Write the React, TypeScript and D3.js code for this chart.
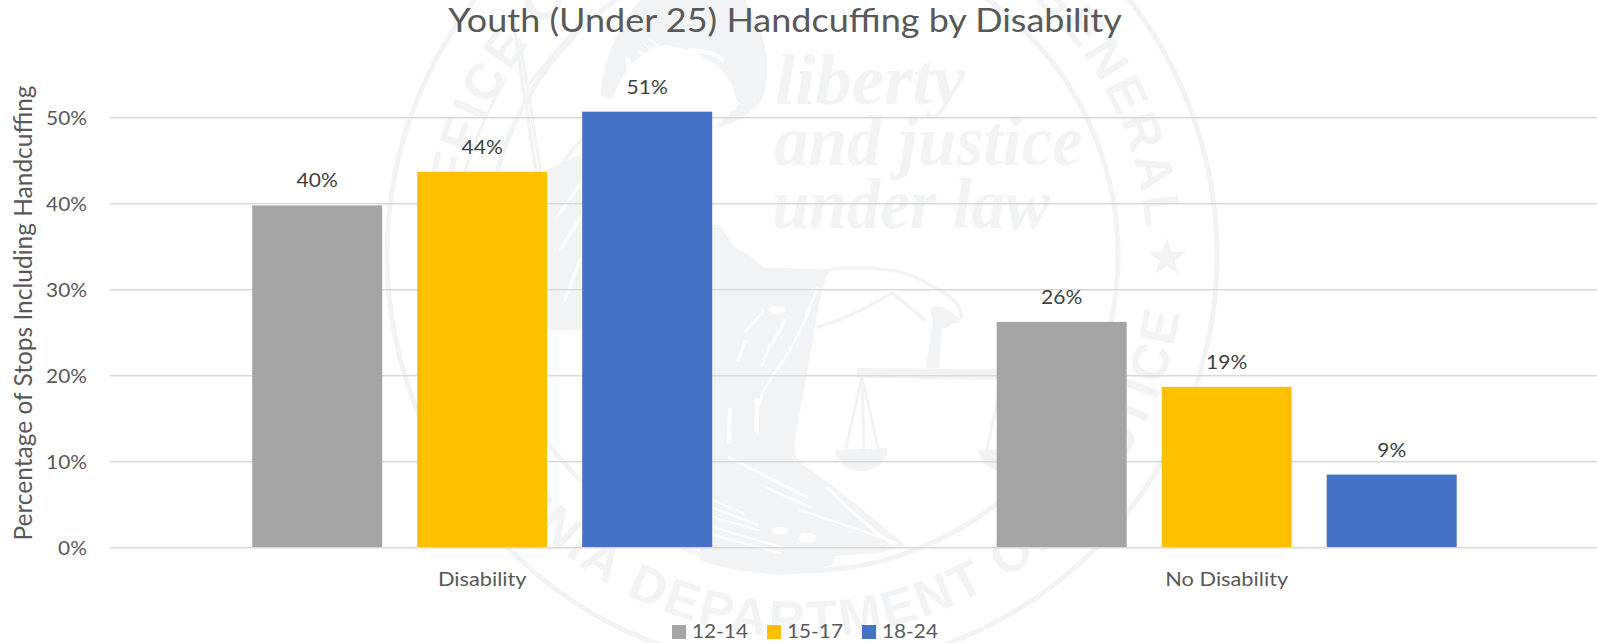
import React from "react";
import * as d3 from "d3";

const categories = ["Disability", "No Disability"];
const seriesNames = ["12-14", "15-17", "18-24"];
const seriesColors = ["#A5A5A5", "#FFC000", "#4472C4"];
const values1214 = [39.8, 26.25];
const values1517 = [43.7, 18.7];
const values1824 = [50.7, 8.5];
const labels1214 = ["40%", "26%"];
const labels1517 = ["44%", "19%"];
const labels1824 = ["51%", "9%"];
const yTicks = [0, 10, 20, 30, 40, 50];

const W = 1597;
const H = 643;
const FONT = "Lato, 'Open Sans', sans-serif";
const WM = "#f2f3f5";

const x0 = d3.scaleBand<string>().domain(categories).range([110, 1599]).padding(0);
const x1 = d3
  .scaleBand<string>()
  .domain(seriesNames)
  .range([142.2, 602.2])
  .paddingInner(35 / 165)
  .paddingOuter(0);
const y = d3.scaleLinear().domain([0, 50]).range([547.7, 117.7]);

const series = [
  { name: seriesNames[0], color: seriesColors[0], values: values1214, labels: labels1214 },
  { name: seriesNames[1], color: seriesColors[1], values: values1517, labels: labels1517 },
  { name: seriesNames[2], color: seriesColors[2], values: values1824, labels: labels1824 },
];

function star(cx: number, cy: number, r: number) {
  const pts: string[] = [];
  for (let i = 0; i < 10; i++) {
    const rad = i % 2 === 0 ? r : r * 0.4;
    const a = -Math.PI / 2 + (i * Math.PI) / 5;
    pts.push(`${cx + rad * Math.cos(a)},${cy + rad * Math.sin(a)}`);
  }
  return pts.join(" ");
}

function T(props: { x: number; y: number; sx?: number; size: number; fill?: string; anchor?: string; children: React.ReactNode }) {
  const { x, y: ty, sx = 1, size, fill = "#595959", anchor = "middle", children } = props;
  return (
    <text
      transform={`translate(${x},${ty}) scale(${sx},1)`}
      textAnchor={anchor}
      fontFamily={FONT}
      fontSize={size}
      fill={fill}
    >
      {children}
    </text>
  );
}

function Seal() {
  const cx = 802;
  const cy = 255;
  const rTop = 345;
  const rBot = 382;
  const rad = (d: number) => (d * Math.PI) / 180;
  const pt = (r: number, d: number) => `${cx + r * Math.cos(rad(d))},${cy + r * Math.sin(rad(d))}`;
  const topPath = `M${pt(rTop, -179)} A${rTop},${rTop} 0 0 1 ${pt(rTop, -1)}`;
  const botPath = `M${pt(rBot, 176)} A${rBot},${rBot} 0 0 0 ${pt(rBot, 4)}`;
  const sealFont = "'Liberation Sans', sans-serif";
  return (
    <g>
      <circle cx={cx} cy={cy} r={415} fill="none" stroke={WM} strokeWidth={5} />
      <circle cx={cx} cy={cy} r={316} fill="none" stroke={WM} strokeWidth={5} />
      <defs>
        <path id="sealTop" d={topPath} />
        <path id="sealBot" d={botPath} />
      </defs>
      <text fontFamily={sealFont} fontWeight="bold" fontSize={51} fill={WM} textAnchor="middle" letterSpacing={3.2}>
        <textPath href="#sealTop" startOffset="50%">OFFICE OF THE ATTORNEY GENERAL</textPath>
      </text>
      <text fontFamily={sealFont} fontWeight="bold" fontSize={51} fill={WM} textAnchor="middle" letterSpacing={3}>
        <textPath href="#sealBot" startOffset="50%">CALIFORNIA DEPARTMENT OF JUSTICE</textPath>
      </text>
      <polygon points={star(1167, 258, 20)} fill={WM} />
      <polygon points={star(437, 258, 20)} fill={WM} />

      <g fontFamily="'Liberation Serif', serif" fontStyle="italic" fontWeight="bold" fontSize={72} fill={WM}>
        <text x={775} y={104} textLength={190} lengthAdjust="spacingAndGlyphs">liberty</text>
        <text x={774} y={165} textLength={309} lengthAdjust="spacingAndGlyphs">and justice</text>
        <text x={772} y={228} textLength={278} lengthAdjust="spacingAndGlyphs">under law</text>
      </g>

      {/* goddess figure, sketched */}
      <g fill={WM}>
        <path d="M700,225 L720,225 C728,240 735,248 745,253 C755,258 760,265 765,268 L832,269 C824,276 821,295 816,320 C808,370 800,410 795,440 C793,452 795,458 803,465 C835,485 875,520 905,545 L880,553 L835,556 L833,564 C815,572 790,576 770,574 C745,572 720,568 700,560 Z" />
        <path d="M600,95 C605,60 615,30 640,0 L745,0 C762,25 772,60 765,90 C760,110 735,125 715,128 L738,105 L732,85 C722,65 700,50 665,45 C640,50 622,70 612,100 Z" />
        <path d="M547,170 L590,150 L590,330 L547,330 Z" />
        <path d="M835,450 L888,448 C885,468 870,471 861,471 C850,471 838,466 835,450 Z" />
        <path d="M978,450 L1030,448 C1027,468 1012,471 1004,471 C992,471 981,466 978,450 Z" />
        <path d="M857,368 L1000,369 L1000,380 L857,378 Z" />
        <path d="M933,320 L942,326 L939,368 L926,368 Z" />
        <path d="M930,308 C938,302 950,310 958,318 C950,328 940,332 934,325 Z" />
      </g>
      <g fill="none" stroke={WM} strokeWidth={3.5} strokeLinecap="round">
        <path d="M513,20 L560,330" />
        <path d="M520,40 L545,200" strokeWidth={3} />
        <path d="M528,85 L590,12" />
        <path d="M535,210 C560,160 580,140 600,120" />
        <path d="M505,80 C470,140 455,200 445,250" strokeWidth={3} />
        <path d="M832,269 C870,266 905,268 930,285 C962,300 968,318 955,322" />
        <path d="M818,327 C835,322 860,312 892,293 L925,320" />
        <path d="M862,376 L846,448 M862,376 L878,448 M862,376 L864,448" strokeWidth={3} />
        <path d="M1003,376 L987,448 M1003,376 L1019,448" strokeWidth={3} />
      </g>
      <g fill="none" stroke="#ffffff" strokeWidth={2} strokeLinecap="round">
        <path d="M645,45 L735,110 M650,40 L740,104 M640,52 L728,116" />
        <path d="M690,50 C705,52 715,52 722,60" strokeWidth={4} />
        <path d="M628,60 L630,87" strokeWidth={5} />
        <path d="M590,170 L555,220 M585,210 L560,250 M580,260 L565,300" strokeWidth={3} />
        <path d="M817,288 C808,315 795,345 778,368 C762,390 756,405 755,428" strokeWidth={2.5} />
        <path d="M763,312 L745,332 M785,320 L772,345 M745,342 L738,360 M770,345 L762,365" strokeWidth={3} />
        <path d="M730,410 L729,442 M757,400 L757,432" strokeWidth={4} />
        <path d="M730,458 L807,497 M765,487 L810,507" strokeWidth={3} />
        <path d="M800,510 C830,520 860,530 897,543" />
        <path d="M828,488 L850,510 L877,533 L897,547" strokeWidth={3} />
        <path d="M713,500 L743,513 M713,508 L758,525 M713,517 L758,530 M713,527 L780,547 M713,535 L780,553" />
      </g>
      <ellipse cx={777} cy={310} rx={8} ry={4} fill="#fff" />
      <ellipse cx={780} cy={531} rx={8} ry={4} fill="#fff" />
      <ellipse cx={807} cy={538} rx={9} ry={5} fill="#fff" />
    </g>
  );
}

export default function App() {
  return (
    <svg
      width={W}
      height={H}
      viewBox={`0 0 ${W} ${H}`}
      style={{ position: "absolute", left: 0, top: 0, display: "block", background: "#fff" }}
    >
      <Seal />

      <T x={785} y={32} size={32} sx={1.125}>
        Youth (Under 25) Handcuffing by Disability
      </T>

      {yTicks.map((t) => (
        <g key={t}>
          <line x1={110} x2={W} y1={y(t)} y2={y(t)} stroke="#d9d9d9" strokeWidth={1.6} />
          <T x={87} y={y(t) + 7} size={19} sx={1.1} anchor="end">
            {`${t}%`}
          </T>
        </g>
      ))}

      <text
        transform="translate(32,313) rotate(-90)"
        textAnchor="middle"
        fontFamily={FONT}
        fontSize={24.5}
        fill="#595959"
      >
        Percentage of Stops Including Handcuffing
      </text>

      {categories.map((c, i) => (
        <g key={c}>
          {series.map((s) => {
            const bx = (x0(c) as number) + (x1(s.name) as number);
            const by = y(s.values[i]);
            return (
              <g key={s.name}>
                <rect x={bx} y={by} width={x1.bandwidth()} height={y(0) - 0.7 - by} fill={s.color} />
                <T x={bx + x1.bandwidth() / 2} y={by - 18} size={20} sx={1.05} fill="#404040">
                  {s.labels[i]}
                </T>
              </g>
            );
          })}
          <T x={(x0(c) as number) + x0.bandwidth() / 2} y={586} size={20} sx={1.09}>
            {c}
          </T>
        </g>
      ))}

      {series.map((s, i) => (
        <g key={s.name} transform={`translate(${672 + i * 95},625)`}>
          <rect width={14} height={14} fill={s.color} />
          <T x={20} y={13} size={20} sx={1.04} anchor="start">
            {s.name}
          </T>
        </g>
      ))}
    </svg>
  );
}
